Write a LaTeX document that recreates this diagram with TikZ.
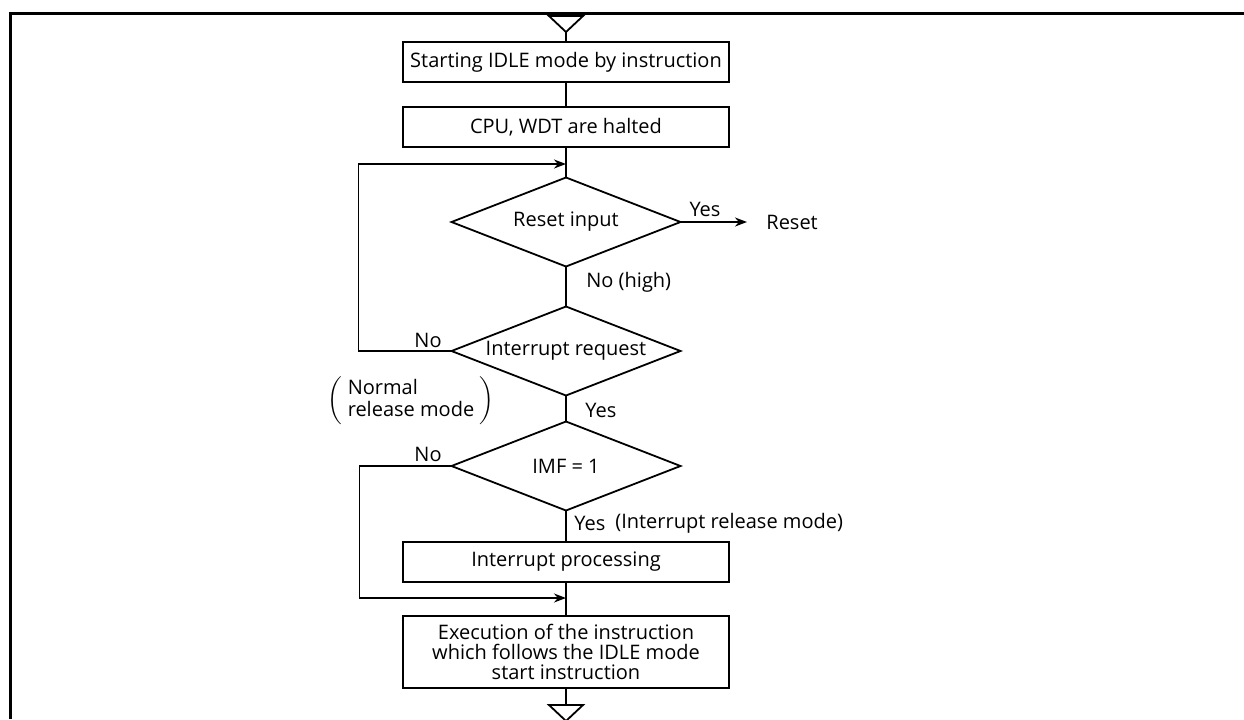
\documentclass[tikz,border=0pt]{standalone}
\usepackage{fontspec}
\setmainfont{Open Sans}
\usetikzlibrary{shapes.geometric,arrows.meta}

\tikzset{
  txt/.style={font=\fontsize{10}{10.2}\selectfont},
  proc/.style={txt, draw, line width=0.9pt, minimum width=163pt, minimum height=20pt,
    inner sep=0pt, outer sep=0pt, align=center},
  decide/.style={txt, draw, diamond, aspect=2.57, line width=0.9pt, minimum width=114.5pt,
    minimum height=44.5pt, inner sep=0pt, outer sep=0pt},
  lbl/.style={txt, inner sep=0pt},
  flow/.style={line width=0.9pt},
  toarr/.style={flow, -{Stealth[length=6pt,width=4.5pt]}},
}

\begin{document}
\begin{tikzpicture}[x=0.5pt,y=-0.5pt]
  \useasboundingbox (0,0) rectangle (1244,719);
  % frame
  \draw[line width=1.5pt] (10,719) -- (10,13) -- (1244,13);

  % flow chart
  \coordinate (in) at (566,32);
  \coordinate (out) at (566,705);
  \node[proc] (start) at (566,62) {Starting IDLE mode by instruction};
  \node[proc] (halt) at (566,127) {CPU, WDT are halted};
  \node[decide] (rst) at (566,222) {Reset input};
  \node[decide] (irq) at (566,351) {Interrupt request};
  \node[decide] (imf) at (566,466) {IMF = 1};
  \node[proc] (isr) at (566,562) {Interrupt processing};
  \node[proc, minimum height=36pt] (exec) at (566,652)
    {Execution of the instruction\\which follows the IDLE mode\\start instruction};
  \node[lbl, anchor=west] (reset) at (766,222) {Reset};
  \coordinate (join1) at (566,164);
  \coordinate (join2) at (566,598);

  % labels
  \node[lbl] (yes1) at (705,209) {Yes};
  \node[lbl, anchor=west] (nohigh) at (586,282) {No (high)};
  \node[lbl] (no1) at (428,340) {No};
  \node[lbl, anchor=west] (yes2) at (585,410) {Yes};
  \node[lbl] (no2) at (428,454) {No};
  \node[lbl] (normal) at (411,401)
    {$\left(\;\begin{tabular}{@{}l@{}}Normal\\release mode\end{tabular}\;\right)$};
  \node[lbl, anchor=west] (yes3) at (574,523) {Yes};
  \node[lbl, anchor=west] (irm) at (615,523) {(Interrupt release mode)};

  % terminals
  \draw[flow] (in) -- ++(-17,-16) -- ++(34,0) -- cycle;
  \draw[flow] (out) -- ++(-17,0) -- ++(17,16) -- ++(17,-16) -- cycle;

  % connectors
  \draw[flow] (in) -- (start);
  \draw[flow] (start) -- (halt);
  \draw[flow] (halt) -- (rst);
  \draw[toarr, shorten >=9.5pt] (rst) -- (reset);
  \draw[flow] (rst) -- (irq);
  \draw[toarr] (irq.west) -- ++(-93,0) |- (join1);
  \draw[flow] (irq) -- (imf);
  \draw[flow] (imf) -- (isr);
  \draw[toarr] (imf.west) -- ++(-92,0) |- (join2);
  \draw[flow] (isr) -- (exec);
  \draw[flow] (exec) -- (out);
\end{tikzpicture}
\end{document}
